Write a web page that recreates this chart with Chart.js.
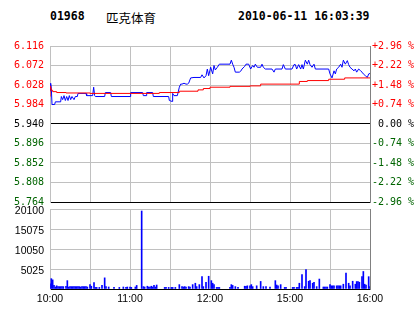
<!DOCTYPE html>
<html>
<head>
<meta charset="utf-8">
<script src="https://cdn.jsdelivr.net/npm/chart.js@4.4.0/dist/chart.umd.min.js"></script>
<style>
html,body{margin:0;padding:0;background:#fff;}
#wrap{position:relative;width:414px;height:314px;overflow:hidden;}
canvas{position:absolute;left:0;}
#main{top:0;}
#vol{top:190px;}
.hd{position:absolute;top:8px;font:bold 11.5px "DejaVu Sans Mono",monospace;line-height:16px;color:#000;white-space:nowrap;}
.cn{font:12.5px "Noto Sans CJK SC",sans-serif;}
</style>
</head>
<body>
<div id="wrap">
  <div class="hd" style="left:50px">01968</div>
  <div class="hd cn" style="left:106px">匹克体育</div>
  <div class="hd" style="left:238px">2010-06-11 16:03:39</div>
  <canvas id="main" width="414" height="216"></canvas>
  <canvas id="vol" width="414" height="124"></canvas>
</div>
<script>
// previous close and axis ticks
const prevClose = 5.940;
const priceTicks = [5.764, 5.808, 5.852, 5.896, 5.940, 5.984, 6.028, 6.072, 6.116];
const pctLabels = ['-2.96 %', '-2.22 %', '-1.48 %', '-0.74 %', ' 0.00 %', '+0.74 %', '+1.48 %', '+2.22 %', '+2.96 %'];
const timeTicks = [0, 60, 120, 180, 240];
const timeLabels = ['10:00', '11:00', '12:00', '15:00', '16:00'];
const volTicks = [0, 5025, 10050, 15075, 20100];

// price line (minute of trading session, price)
const priceMin = [0, 0.5, 1, 1.5, 3.5, 4, 8, 8.5, 9.5, 10.5, 11.5, 12.5, 13.5, 14.5, 15.5, 16.5, 18, 19, 20.5, 21, 27, 27.5, 32, 32.75, 33.5, 34, 41, 41.5, 45.5, 46, 60, 60.5, 69.5, 70, 72, 72.5, 77, 77.5,
  89, 89.5, 91.5, 92, 93, 95.5, 97, 98, 99, 100.5, 102, 103, 104, 105.5, 108, 113, 114, 115.5, 117, 118, 119, 120.5, 122, 123, 124, 125.5, 127, 135, 136, 137, 138, 139, 142, 143, 144, 146, 147, 149,
  150.5, 152, 153, 154, 155.5, 158, 159, 160, 161.5, 166.5, 168, 169, 174, 175, 176.5, 181.5, 183, 184, 185, 186.5, 188, 189, 190, 191.5, 193, 194, 195, 196.5, 198, 199, 209,
  210, 211.5, 213, 214, 215, 216.5, 218, 219, 220, 221.5, 223, 224, 225, 226.5, 228, 229, 230, 231.5, 233, 234, 235, 236.5, 238, 239, 240];
const priceVal = [6.015, 6.032, 6.020, 5.984, 5.984, 5.990, 5.990, 6.002, 5.995, 6.004, 5.993, 6.002, 5.993, 6.004, 5.995, 6.002, 5.995, 6.002, 6.002, 6.009, 6.009, 6.004, 6.004, 6.023, 6.004, 6.002, 6.002, 6.011, 6.011, 6.002, 6.002, 6.011, 6.011, 6.004, 6.004, 6.011, 6.011, 6.002,
  6.002, 5.993, 5.991, 6.009, 6.004, 6.004, 6.023, 6.030, 6.030, 6.032, 6.030, 6.030, 6.032, 6.044, 6.045, 6.045, 6.051, 6.044, 6.049, 6.064, 6.049, 6.068, 6.053, 6.072, 6.062, 6.068, 6.075, 6.075, 6.084, 6.075, 6.068, 6.057, 6.057, 6.059, 6.064, 6.070, 6.075, 6.075,
  6.064, 6.072, 6.068, 6.075, 6.068, 6.068, 6.075, 6.068, 6.064, 6.064, 6.057, 6.064, 6.064, 6.074, 6.064, 6.064, 6.074, 6.074, 6.064, 6.074, 6.064, 6.074, 6.064, 6.084, 6.075, 6.084, 6.074, 6.068, 6.075, 6.064, 6.064,
  6.053, 6.044, 6.060, 6.053, 6.064, 6.068, 6.075, 6.068, 6.084, 6.075, 6.083, 6.074, 6.068, 6.064, 6.060, 6.064, 6.057, 6.064, 6.060, 6.057, 6.053, 6.049, 6.045, 6.053, 6.054];

// average price line
const avgMin = [0, 0.5, 1, 2, 5, 12, 30, 82, 97, 111, 115, 120, 135, 150, 158, 187, 193, 209, 221, 231, 240];
const avgVal = [6.002, 6.025, 6.020, 6.016, 6.013, 6.011, 6.010, 6.009, 6.011, 6.014, 6.017, 6.020, 6.023, 6.025, 6.026, 6.030, 6.036, 6.038, 6.041, 6.044, 6.044];

// volume per minute
const volMin = [0, 1, 2, 3, 4, 5, 6, 7, 8, 9, 10, 12, 13, 14, 15, 16, 17, 18, 19, 20, 21, 22, 23, 24, 25, 26, 27, 28, 30, 31, 33, 34, 35, 37, 39, 41, 42, 44, 48, 52, 55, 57, 58, 60, 61, 64, 65, 68.75,
  70, 71, 73, 74, 75, 76, 77, 78, 79, 80, 86, 87, 89, 91, 92, 94, 97, 99, 100, 101, 102, 104, 105, 107, 109, 110, 112, 114, 115, 117, 119, 121, 122, 123, 125, 126, 127, 135, 136, 137, 139, 141,
  146, 147, 148, 150, 151, 152, 155, 158, 160, 162, 165, 169, 170, 171, 173, 176, 177, 182, 183, 185, 186, 187, 189, 191, 192, 194, 195, 197, 198, 200, 202, 205, 206, 207, 208, 210, 211, 212, 213,
  215, 216, 217, 218, 220, 222, 224, 225, 227, 229, 230, 231, 232, 234, 235, 236, 237, 239, 240];
const volVal = [1300, 2600, 2300, 900, 500, 800, 600, 600, 600, 600, 600, 700, 2100, 500, 600, 600, 600, 600, 600, 600, 600, 600, 500, 600, 600, 600, 600, 500, 1100, 700, 1600, 400, 400, 400, 900, 2800, 600, 500, 400, 400, 500, 400, 500, 500, 400, 500, 900, 19600,
  600, 500, 700, 500, 500, 700, 500, 900, 500, 1000, 400, 400, 400, 400, 400, 400, 1100, 600, 500, 600, 500, 600, 500, 1100, 1450, 600, 1100, 3100, 600, 1700, 3200, 2100, 1450, 1100, 400, 400, 400, 400, 1100, 900, 600, 400,
  700, 700, 800, 800, 1100, 600, 800, 1900, 600, 600, 500, 2100, 1000, 800, 1100, 400, 400, 400, 400, 400, 400, 1450, 3600, 600, 4900, 1950, 2100, 1450, 1700, 600, 2500, 500, 500, 500, 500, 1100, 800, 800, 800,
  800, 800, 800, 800, 1200, 4000, 1450, 800, 1950, 1200, 1870, 1870, 1700, 3100, 4400, 1200, 1000, 3100, 600];

const RED = '#ff0000', GREEN = '#006400', GRID = '#c0c0c0', EDGE = '#808080';
const priceFont = { family: 'DejaVu Sans Mono', size: 10 };
const volFont = { family: 'Liberation Sans', size: 10.5 };

function levelColor(v) {
  if (v > prevClose + 1e-6) return RED;
  if (v < prevClose - 1e-6) return GREEN;
  return '#000';
}
const setPriceTicks = s => { s.ticks = priceTicks.map(v => ({ value: v })); };
const xGrid = c => (c.index === 8 ? EDGE : GRID);

new Chart(document.getElementById('main'), {
  type: 'line',
  data: {
    datasets: [
      { data: avgMin.map((m, i) => ({ x: m, y: avgVal[i] })), borderColor: RED, borderWidth: 1, pointRadius: 0, stepped: 'after' },
      { data: priceMin.map((m, i) => ({ x: m, y: priceVal[i] })), borderColor: '#0000ff', borderWidth: 1, pointRadius: 0 }
    ]
  },
  options: {
    responsive: false, animation: false, events: [],
    layout: { padding: { top: 46, bottom: 14, left: 0, right: 0 } },
    plugins: { legend: { display: false }, tooltip: { enabled: false } },
    scales: {
      x: {
        type: 'linear', min: 0, max: 240,
        ticks: { display: false, stepSize: 30 },
        grid: { color: xGrid, drawTicks: false },
        border: { color: '#000' },
        afterFit: s => { s.height = 0; }
      },
      y: {
        position: 'left', min: 5.764, max: 6.116,
        afterBuildTicks: setPriceTicks,
        ticks: { padding: 6, font: priceFont, color: c => levelColor(c.tick.value), callback: v => v.toFixed(3) },
        grid: { drawTicks: false, color: c => (Math.abs(c.tick.value - prevClose) < 1e-6 || c.index === 0 ? '#000' : GRID) },
        border: { color: GRID },
        afterFit: s => { s.width = 50; }
      },
      yr: {
        position: 'right', min: 5.764, max: 6.116,
        afterBuildTicks: setPriceTicks,
        ticks: { padding: 2, font: priceFont, color: c => levelColor(c.tick.value), callback: (v, i) => pctLabels[i] },
        grid: { display: false, drawTicks: false },
        border: { color: EDGE },
        afterFit: s => { s.width = 44; }
      }
    }
  }
});

new Chart(document.getElementById('vol'), {
  type: 'bar',
  data: {
    datasets: [{ data: volMin.map((m, i) => ({ x: m, y: volVal[i] })), backgroundColor: '#0000ff', borderWidth: 0, barThickness: 1 }]
  },
  options: {
    responsive: false, animation: false, events: [],
    layout: { padding: { top: 19, bottom: 0, left: 0, right: 0 } },
    plugins: { legend: { display: false }, tooltip: { enabled: false } },
    scales: {
      x: {
        type: 'linear', min: 0, max: 240, offset: false,
        ticks: {
          stepSize: 30, autoSkip: false, maxRotation: 0, padding: 4, font: volFont, color: '#000',
          callback: v => { const i = timeTicks.indexOf(v); return i < 0 ? '' : timeLabels[i]; }
        },
        grid: { offset: false, color: xGrid, drawTicks: false },
        border: { color: '#000' },
        afterFit: s => { s.height = 25; }
      },
      y: {
        min: 0, max: 20100,
        afterBuildTicks: s => { s.ticks = volTicks.map(v => ({ value: v })); },
        ticks: { padding: 6, labelOffset: 2, font: volFont, color: '#000', callback: v => (v === 0 ? '' : String(v)) },
        grid: { drawTicks: false, color: c => (c.index === 0 ? '#000' : GRID) },
        border: { color: GRID },
        afterFit: s => { s.width = 50; }
      },
      yr: {
        position: 'right', min: 0, max: 20100,
        ticks: { display: false },
        grid: { display: false, drawTicks: false },
        border: { color: EDGE },
        afterFit: s => { s.width = 44; }
      }
    }
  }
});
</script>
</body>
</html>
